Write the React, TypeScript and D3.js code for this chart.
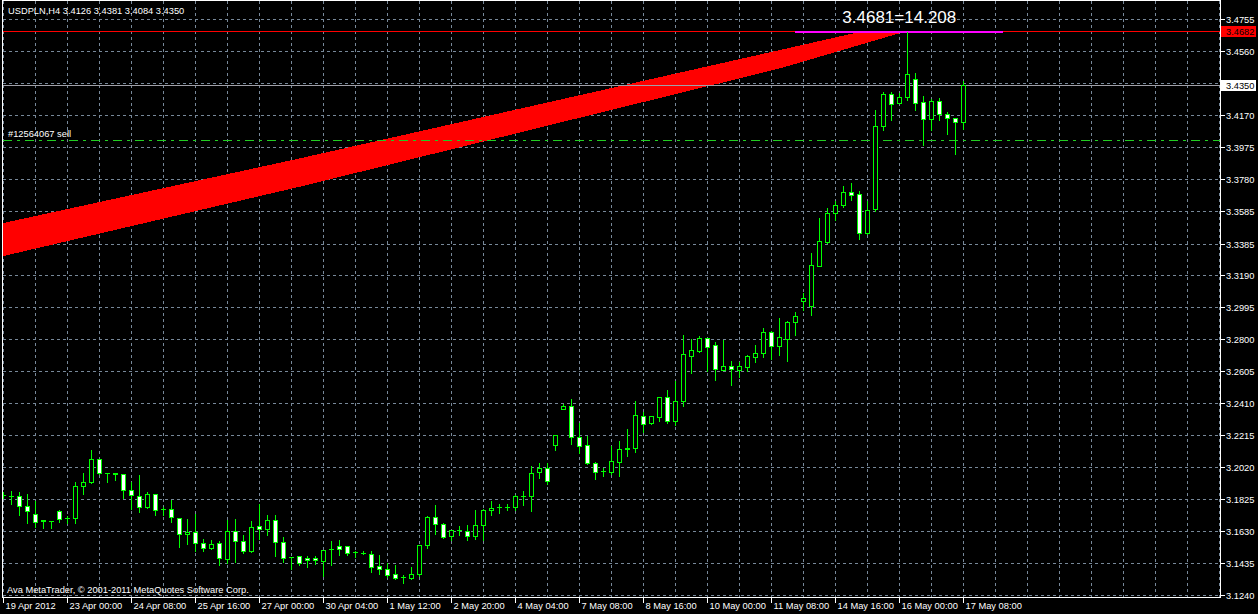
import React from "react";
import * as d3 from "d3";

// ---------- data ----------
const headerText = "USDPLN,H4  3.4126 3.4381 3.4084 3.4350";
const copyrightText = "Ava MetaTrader, \u00a9 2001-2011 MetaQuotes Software Corp.";

const opens = [
  3.1850, 3.1844, 3.1847, 3.1786, 3.1737, 3.1695, 3.1691, 3.1755, 3.1711, 3.1710,
  3.1908, 3.1930, 3.2072, 3.1986, 3.1982, 3.1981, 3.1883, 3.1845, 3.1777, 3.1859,
  3.1766, 3.1767, 3.1712, 3.1615, 3.1625, 3.1560, 3.1527, 3.1560, 3.1462, 3.1633,
  3.1572, 3.1509, 3.1661, 3.1645, 3.1700, 3.1566, 3.1473, 3.1476, 3.1468, 3.1468,
  3.1448, 3.1522, 3.1537, 3.1537, 3.1502, 3.1498, 3.1493, 3.1415, 3.1401, 3.1366,
  3.1351, 3.1344, 3.1368, 3.1547, 3.1716, 3.1676, 3.1602, 3.1634, 3.1633, 3.1600,
  3.1668, 3.1759, 3.1776, 3.1778, 3.1777, 3.1844, 3.1845, 3.1991, 3.2018, 3.2156,
  3.2378, 3.2394, 3.2203, 3.2154, 3.2044, 3.1998, 3.1991, 3.2054, 3.2136, 3.2140,
  3.2331, 3.2292, 3.2329, 3.2447, 3.2304, 3.2421, 3.2701, 3.2732, 3.2807, 3.2767,
  3.2616, 3.2636, 3.2610, 3.2634, 3.2695, 3.2714, 3.2844, 3.2762, 3.2805, 3.2903,
  3.3037, 3.3001, 3.3249, 3.3397, 3.3570, 3.3617, 3.3699, 3.3686, 3.3452, 3.3593,
  3.4100, 3.4299, 3.4240, 3.4279, 3.4389, 3.4248, 3.4144, 3.4254, 3.4177, 3.4151,
  3.4126,
];
const highs = [
  3.1875, 3.1879, 3.1873, 3.1865, 3.1822, 3.1704, 3.1700, 3.1763, 3.1731, 3.1934,
  3.1989, 3.2130, 3.2079, 3.1991, 3.1991, 3.1987, 3.1934, 3.1977, 3.1877, 3.1863,
  3.1782, 3.1828, 3.1718, 3.1708, 3.1743, 3.1590, 3.1580, 3.1574, 3.1706, 3.1712,
  3.1611, 3.1696, 3.1800, 3.1737, 3.1737, 3.1598, 3.1478, 3.1482, 3.1484, 3.1484,
  3.1519, 3.1574, 3.1580, 3.1547, 3.1513, 3.1517, 3.1517, 3.1493, 3.1442, 3.1427,
  3.1370, 3.1415, 3.1554, 3.1731, 3.1798, 3.1684, 3.1641, 3.1666, 3.1676, 3.1763,
  3.1771, 3.1818, 3.1804, 3.1804, 3.1859, 3.1879, 3.2032, 3.2050, 3.2050, 3.2223,
  3.2410, 3.2443, 3.2294, 3.2215, 3.2058, 3.2020, 3.2156, 3.2187, 3.2260, 3.2431,
  3.2360, 3.2339, 3.2455, 3.2498, 3.2553, 3.2834, 3.2807, 3.2828, 3.2813, 3.2791,
  3.2801, 3.2675, 3.2665, 3.2712, 3.2773, 3.2874, 3.2858, 3.2935, 3.2919, 3.2974,
  3.3092, 3.3334, 3.3546, 3.3609, 3.3652, 3.3743, 3.3760, 3.3713, 3.3652, 3.4208,
  3.4313, 3.4313, 3.4309, 3.4681, 3.4433, 3.4293, 3.4275, 3.4279, 3.4191, 3.4155,
  3.4381,
];
const lows = [
  3.1834, 3.1798, 3.1727, 3.1680, 3.1655, 3.1649, 3.1649, 3.1688, 3.1680, 3.1680,
  3.1855, 3.1924, 3.1977, 3.1930, 3.1940, 3.1830, 3.1767, 3.1747, 3.1769, 3.1727,
  3.1731, 3.1686, 3.1533, 3.1554, 3.1509, 3.1509, 3.1523, 3.1425, 3.1436, 3.1442,
  3.1495, 3.1503, 3.1584, 3.1607, 3.1478, 3.1442, 3.1401, 3.1421, 3.1411, 3.1431,
  3.1356, 3.1421, 3.1482, 3.1482, 3.1472, 3.1489, 3.1381, 3.1366, 3.1350, 3.1336,
  3.1314, 3.1338, 3.1356, 3.1527, 3.1615, 3.1588, 3.1574, 3.1605, 3.1578, 3.1582,
  3.1574, 3.1727, 3.1741, 3.1757, 3.1761, 3.1788, 3.1753, 3.1957, 3.1920, 3.2123,
  3.2374, 3.2162, 3.2105, 3.2040, 3.1948, 3.1967, 3.1979, 3.1967, 3.2089, 3.2113,
  3.2235, 3.2284, 3.2302, 3.2292, 3.2280, 3.2396, 3.2596, 3.2724, 3.2608, 3.2553,
  3.2610, 3.2522, 3.2573, 3.2604, 3.2659, 3.2695, 3.2679, 3.2706, 3.2669, 3.2828,
  3.2980, 3.2950, 3.3245, 3.3387, 3.3526, 3.3607, 3.3652, 3.3414, 3.3444, 3.3581,
  3.4079, 3.4140, 3.4240, 3.4258, 3.4201, 3.3988, 3.4079, 3.4140, 3.4055, 3.3933,
  3.4084,
];
const closes = [
  3.1848, 3.1842, 3.1786, 3.1755, 3.1688, 3.1693, 3.1689, 3.1706, 3.1709, 3.1908,
  3.1932, 3.2072, 3.1985, 3.1984, 3.1980, 3.1883, 3.1853, 3.1780, 3.1859, 3.1761,
  3.1764, 3.1716, 3.1615, 3.1627, 3.1560, 3.1529, 3.1554, 3.1464, 3.1633, 3.1572,
  3.1509, 3.1657, 3.1645, 3.1700, 3.1566, 3.1468, 3.1471, 3.1436, 3.1456, 3.1452,
  3.1517, 3.1520, 3.1521, 3.1497, 3.1500, 3.1496, 3.1411, 3.1399, 3.1362, 3.1346,
  3.1349, 3.1370, 3.1547, 3.1716, 3.1676, 3.1594, 3.1635, 3.1636, 3.1600, 3.1670,
  3.1761, 3.1773, 3.1778, 3.1776, 3.1847, 3.1842, 3.1987, 3.2018, 3.1936, 3.2215,
  3.2394, 3.2203, 3.2152, 3.2048, 3.1993, 3.1996, 3.2058, 3.2132, 3.2132, 3.2337,
  3.2286, 3.2333, 3.2449, 3.2304, 3.2423, 3.2712, 3.2736, 3.2807, 3.2756, 3.2622,
  3.2638, 3.2618, 3.2638, 3.2699, 3.2716, 3.2844, 3.2762, 3.2813, 3.2907, 3.2944,
  3.3051, 3.3253, 3.3399, 3.3570, 3.3619, 3.3699, 3.3684, 3.3448, 3.3591, 3.4104,
  3.4299, 3.4236, 3.4279, 3.4419, 3.4242, 3.4144, 3.4256, 3.4175, 3.4151, 3.4126,
  3.4350,
];

const priceTicks = [
  3.4755, 3.456, 3.4365, 3.417, 3.3975, 3.378, 3.3585, 3.3385, 3.319, 3.2995,
  3.28, 3.2605, 3.241, 3.2215, 3.202, 3.1825, 3.163, 3.1435, 3.124,
];
const timeLabels = [
  "19 Apr 2012", "23 Apr 00:00", "24 Apr 08:00", "25 Apr 16:00", "27 Apr 00:00",
  "30 Apr 04:00", "1 May 12:00", "2 May 20:00", "4 May 04:00", "7 May 08:00",
  "8 May 16:00", "10 May 00:00", "11 May 08:00", "14 May 16:00", "16 May 00:00",
  "17 May 08:00",
];
const timeLabelBars = [0, 8, 16, 24, 32, 40, 48, 56, 64, 72, 80, 88, 96, 104, 112, 120];

const bidPrice = 3.435;
const redLinePrice = 3.4682;
const orderPrice = 3.4016;
const orderLabel = "#12564067 sell";
const magentaBars = [99, 125];
const magentaPrice = 3.4681;
const magentaLabel = "3.4681=14.208";

// red band object outline (bar index, price)
const bandBars = [-0.2, 37.1, 97.1, 107.3, 112.8, 97.1, 37.1, -0.2];
const bandPrices = [3.3511, 3.3908, 3.4569, 3.4682, 3.4682, 3.4457, 3.3735, 3.3309];

// ---------- layout ----------
const W = 1258;
const H = 614;
const plotLeft = 2.5;
const plotRight = 1220.5;
const plotTop = 0.5;
const plotBottom = 597.5;

const FONT = "'Liberation Sans', Arial, sans-serif";
const GREEN = "#00ff00";
const GRID = "#778899";

export default function App() {
  const x = d3.scaleLinear().domain([0, 152]).range([3.3, 1219.3]);
  const y = d3.scaleLinear().domain([3.124, 3.4755]).range([595.5, 19.5]);
  const px = (i: number) => Math.round(x(i)) + 0.5;
  const py = (p: number) => Math.round(y(p) - 0.5) + 0.5;

  const gridBars = d3.range(0, 153, 4);
  const bandPts = bandBars.map((b, i) => [x(b), y(bandPrices[i])] as [number, number]);
  const bandPath = d3.line()(bandPts) + "Z";

  return (
    <svg
      width={W}
      height={H}
      style={{ position: "absolute", left: 0, top: 0, background: "#000" }}
      shapeRendering="crispEdges"
    >
      <defs>
        <clipPath id="plot">
          <rect x={plotLeft} y={plotTop} width={plotRight - plotLeft} height={plotBottom - plotTop} />
        </clipPath>
      </defs>
      <rect x={0} y={0} width={W} height={H} fill="#000" />

      <g clipPath="url(#plot)">
        {/* grid */}
        {gridBars.map((b) => (
          <line key={"gv" + b} x1={px(b)} x2={px(b)} y1={plotTop} y2={plotBottom} stroke={GRID} strokeDasharray="3,3" />
        ))}
        {priceTicks.map((p) => (
          <line key={"gh" + p} x1={plotLeft} x2={plotRight} y1={py(p)} y2={py(p)} stroke={GRID} strokeDasharray="3,3" />
        ))}

        {/* red band */}
        <path d={bandPath} fill="#ff0000" />

        {/* horizontal lines */}
        <line x1={plotLeft} x2={plotRight} y1={py(redLinePrice)} y2={py(redLinePrice)} stroke="#ff0000" />
        <line x1={plotLeft} x2={plotRight} y1={py(bidPrice)} y2={py(bidPrice)} stroke="#a0a0a8" />
        <line x1={plotLeft} x2={plotRight} y1={py(orderPrice)} y2={py(orderPrice)} stroke="#22cc22" strokeDasharray="9,5,3,5" />
        <line
          x1={x(magentaBars[0])}
          x2={x(magentaBars[1])}
          y1={y(magentaPrice)}
          y2={y(magentaPrice)}
          stroke="#ff00ff"
          strokeWidth={2}
        />

        {/* candles */}
        {opens.map((o, i) => {
          const c = closes[i];
          const cx = px(i);
          const yH = py(highs[i]);
          const yL = py(lows[i]);
          const yO = py(o);
          const yC = py(c);
          const top = Math.min(yO, yC);
          const bot = Math.max(yO, yC);
          const bear = c < o;
          return (
            <g key={"c" + i}>
              <line x1={cx} x2={cx} y1={yH} y2={yL} stroke={GREEN} />
              {bot - top < 1 ? (
                <line x1={cx - 2.5} x2={cx + 2.5} y1={top} y2={top} stroke={GREEN} />
              ) : (
                <rect x={cx - 2} y={top} width={4} height={bot - top} fill={bear ? "#ffffff" : "#000000"} stroke={GREEN} />
              )}
            </g>
          );
        })}

        {/* texts inside plot */}
        <text x={8} y={14} fill="#ffffff" fontFamily={FONT} fontSize={9.3}>
          {headerText}
        </text>
        <text x={8} y={py(orderPrice) - 4} fill="#ffffff" fontFamily={FONT} fontSize={9.3}>
          {orderLabel}
        </text>
        <text
          x={(x(magentaBars[0]) + x(magentaBars[1])) / 2}
          y={y(magentaPrice) - 9}
          fill="#ffffff"
          fontFamily={FONT}
          fontSize={17}
          textAnchor="middle"
        >
          {magentaLabel}
        </text>
        <text x={7} y={593} fill="#ffffff" fontFamily={FONT} fontSize={9.3}>
          {copyrightText}
        </text>
      </g>

      {/* border */}
      <rect x={plotLeft} y={plotTop} width={plotRight - plotLeft} height={plotBottom - plotTop} fill="none" stroke="#ffffff" />

      {/* price axis */}
      {priceTicks.map((p) => (
        <g key={"pt" + p}>
          <line x1={plotRight} x2={plotRight + 4} y1={py(p)} y2={py(p)} stroke="#ffffff" />
          <text x={1226} y={py(p) + 3.5} fill="#ffffff" fontFamily={FONT} fontSize={9.3}>
            {p.toFixed(4)}
          </text>
        </g>
      ))}
      {/* price label boxes */}
      <rect x={1221} y={py(redLinePrice) - 5.5} width={35} height={11} fill="#ff0000" />
      <text x={1226} y={py(redLinePrice) + 3.5} fill="#000000" fontFamily={FONT} fontSize={9.3}>
        {redLinePrice.toFixed(4)}
      </text>
      <rect x={1221} y={py(bidPrice) - 6} width={35} height={11} fill="#ffffff" />
      <text x={1226} y={py(bidPrice) + 3.5} fill="#000000" fontFamily={FONT} fontSize={9.3}>
        {bidPrice.toFixed(4)}
      </text>

      {/* time axis */}
      {timeLabelBars.map((b, k) => (
        <g key={"tl" + b}>
          <line x1={px(b)} x2={px(b)} y1={plotBottom} y2={plotBottom + 5} stroke="#ffffff" />
          <text x={px(b) + 2} y={609} fill="#ffffff" fontFamily={FONT} fontSize={9.3}>
            {timeLabels[k]}
          </text>
        </g>
      ))}
    </svg>
  );
}
